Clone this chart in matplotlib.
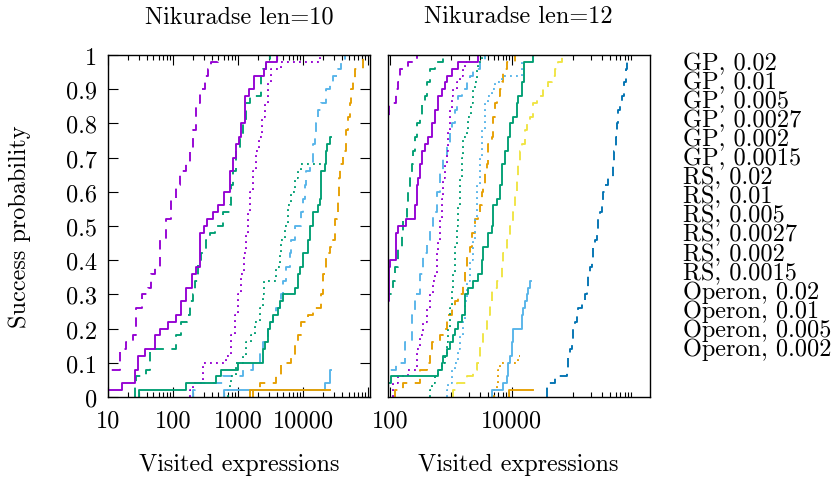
import matplotlib
matplotlib.use("Agg")
import matplotlib.pyplot as plt
from matplotlib.ticker import FixedLocator, NullFormatter

plt.rcParams['font.family'] = ['cmr10', 'DejaVu Serif']
plt.rcParams['axes.unicode_minus'] = False

FS = 17.5

legend_labels = ["GP, 0.02", "GP, 0.01", "GP, 0.005", "GP, 0.0027", "GP, 0.002", "GP, 0.0015",
                 "RS, 0.02", "RS, 0.01", "RS, 0.005", "RS, 0.0027", "RS, 0.002", "RS, 0.0015",
                 "Operon, 0.02", "Operon, 0.01", "Operon, 0.005", "Operon, 0.002"]

y_ticks = [0, 0.1, 0.2, 0.3, 0.4, 0.5, 0.6, 0.7, 0.8, 0.9, 1]
y_tick_labels = ["0", "0.1", "0.2", "0.3", "0.4", "0.5", "0.6", "0.7", "0.8", "0.9", "1"]
x_ticks_10 = [10, 100, 1000, 10000]
x_tick_labels_10 = ["10", "100", "1000", "10000"]
x_ticks_12 = [100, 10000]
x_tick_labels_12 = ["100", "10000"]

# ---- Nikuradse len=10 ----
l10_gp002_x = [9, 14, 15.5, 19, 24, 27, 33, 41, 46, 52, 62, 79, 94, 112, 127, 157, 180, 203, 229, 257, 307, 345, 389, 500]
l10_gp002_y = [0.08, 0.08, 0.14, 0.16, 0.18, 0.26, 0.30, 0.32, 0.36, 0.38, 0.46, 0.52, 0.58, 0.62, 0.66, 0.68, 0.72, 0.78, 0.86, 0.90, 0.94, 0.96, 0.98, 1.0]
l10_gp001_x = [25.7, 27.3, 38.9, 43.8, 112, 134, 164, 180, 203, 215, 243, 273, 326, 367, 438, 587, 745, 789, 838, 943, 1061, 1194, 1343, 1511, 2285, 2427, 2728, 3069]
l10_gp001_y = [0.04, 0.06, 0.08, 0.14, 0.18, 0.22, 0.24, 0.28, 0.30, 0.34, 0.40, 0.42, 0.46, 0.48, 0.50, 0.54, 0.56, 0.62, 0.66, 0.72, 0.76, 0.80, 0.86, 0.88, 0.94, 0.96, 0.98, 1.0]
l10_gp0005_x = [200, 215, 588, 1194, 1702, 2154, 2427, 2894, 3256, 3453, 3890, 4375, 4642, 4920, 5540, 6240, 6620, 7450, 9430, 10000, 10610, 11250, 12680, 14260, 15110, 16030, 17020, 19150, 22850, 25700, 28940, 34530, 38900, 43750]
l10_gp0005_y = [0.02, 0.04, 0.06, 0.08, 0.10, 0.14, 0.16, 0.20, 0.22, 0.24, 0.26, 0.28, 0.30, 0.34, 0.38, 0.42, 0.46, 0.50, 0.54, 0.58, 0.62, 0.66, 0.68, 0.74, 0.76, 0.80, 0.84, 0.86, 0.90, 0.92, 0.94, 0.96, 0.98, 1.0]
l10_gp00027_x = [1700, 2154, 3890, 4642, 6620, 7450, 8380, 9430, 11940, 14260, 19150, 20320, 22850, 25700, 28940, 30690, 33340, 34530, 35800, 36650, 41220, 46420, 49200, 52240, 55460, 58750, 62370, 83750]
l10_gp00027_y = [0.02, 0.04, 0.06, 0.10, 0.12, 0.16, 0.18, 0.22, 0.24, 0.26, 0.30, 0.36, 0.42, 0.44, 0.46, 0.52, 0.54, 0.58, 0.64, 0.68, 0.72, 0.78, 0.82, 0.86, 0.90, 0.92, 0.96, 1.0]
l10_rs002_x = [180, 203, 290, 662, 789, 889, 1000, 1125, 1222, 1312, 1426, 1549, 1702, 1916, 2105, 2367, 2570, 2894, 3256, 4642, 18030]
l10_rs002_y = [0.02, 0.04, 0.10, 0.12, 0.18, 0.24, 0.30, 0.36, 0.42, 0.48, 0.54, 0.60, 0.66, 0.72, 0.76, 0.82, 0.86, 0.92, 0.96, 0.98, 1.0]
l10_rs001_x = [700, 745, 789, 943, 1194, 1343, 1596, 1797, 2141, 2410, 2495, 3890, 4375, 4642, 5224, 5874, 6620, 7450, 8380, 9430, 19150]
l10_rs001_y = [0.02, 0.04, 0.06, 0.10, 0.12, 0.16, 0.18, 0.22, 0.26, 0.30, 0.34, 0.38, 0.42, 0.46, 0.50, 0.56, 0.60, 0.64, 0.66, 0.68, 0.68]
l10_op002_x = [9, 16.6, 25.7, 29, 37, 52, 62, 84, 112, 131, 157, 198, 229, 257, 300, 338, 412, 492, 601, 745, 838, 943, 1035, 1125, 1297, 1459, 1742, 2483, 2728, 3981]
l10_op002_y = [0.02, 0.04, 0.08, 0.12, 0.14, 0.18, 0.20, 0.22, 0.24, 0.28, 0.32, 0.36, 0.38, 0.48, 0.50, 0.52, 0.54, 0.56, 0.60, 0.66, 0.70, 0.74, 0.76, 0.80, 0.88, 0.90, 0.94, 0.96, 0.98, 1.0]
l10_op001_x = [30, 157, 464, 554, 1000, 2427, 2570, 2894, 3069, 3453, 4120, 4375, 4920, 7450, 8380, 8890, 10000, 11940, 12680, 14260, 17020, 18030, 19150, 21540, 22850, 23670, 25700, 26500]
l10_op001_y = [0.02, 0.04, 0.06, 0.08, 0.10, 0.14, 0.16, 0.20, 0.22, 0.24, 0.26, 0.28, 0.30, 0.32, 0.36, 0.38, 0.42, 0.46, 0.50, 0.54, 0.56, 0.58, 0.66, 0.68, 0.72, 0.74, 0.76, 0.76]
l10_op0005_x = [600, 21540, 25700, 26500]
l10_op0005_y = [0.02, 0.04, 0.08, 0.08]
l10_op0002_x = [1520, 26000]
l10_op0002_y = [0.02, 0.02]

# ---- Nikuradse len=12 ----
l12_gp002_x = [80, 96, 128, 137, 146, 200, 273]
l12_gp002_y = [0.82, 0.86, 0.90, 0.92, 0.96, 0.98, 1.0]
l12_gp001_x = [80, 113, 121, 137, 155, 166, 188, 200, 213, 226, 241, 257, 273, 311, 330, 375, 399, 453, 547, 748]
l12_gp001_y = [0.30, 0.34, 0.38, 0.44, 0.48, 0.52, 0.56, 0.60, 0.64, 0.68, 0.72, 0.76, 0.80, 0.82, 0.86, 0.88, 0.92, 0.96, 0.98, 1.0]
l12_gp0005_x = [80, 128, 176, 226, 257, 311, 352, 399, 453, 513, 582, 661, 748, 849, 963, 1025, 1163, 1239, 1319, 1497, 1806, 2046, 2321, 2985, 3606]
l12_gp0005_y = [0.08, 0.10, 0.16, 0.24, 0.30, 0.36, 0.42, 0.46, 0.50, 0.54, 0.60, 0.66, 0.70, 0.74, 0.78, 0.80, 0.84, 0.86, 0.88, 0.90, 0.92, 0.94, 0.96, 0.98, 1.0]
l12_gp00027_x = [121, 166, 311, 399, 453, 482, 661, 748, 849, 1025, 1163, 1319, 1592, 1698, 1806, 2046, 2185, 2472, 2805, 2985, 3183, 3388, 3606, 3846, 4091, 4642, 4944, 5260, 5610, 6360, 6770, 7210, 8180, 11200]
l12_gp00027_y = [0.02, 0.04, 0.08, 0.10, 0.14, 0.16, 0.18, 0.20, 0.24, 0.26, 0.28, 0.30, 0.34, 0.38, 0.42, 0.44, 0.48, 0.52, 0.54, 0.56, 0.60, 0.62, 0.66, 0.68, 0.74, 0.76, 0.82, 0.86, 0.88, 0.90, 0.92, 0.96, 0.98, 1.0]
l12_gp0002_x = [1092, 1239, 1806, 2321, 2634, 2985, 3388, 3846, 4356, 4642, 5610, 6770, 7210, 8180, 9270, 10510, 11200, 11930, 12700, 13530, 14390, 16330, 17390, 19720, 22370, 25360, 32640, 39450, 44690, 50700, 57500, 65180]
l12_gp0002_y = [0.02, 0.04, 0.06, 0.08, 0.10, 0.16, 0.20, 0.24, 0.28, 0.32, 0.34, 0.38, 0.42, 0.46, 0.50, 0.54, 0.60, 0.64, 0.68, 0.72, 0.74, 0.78, 0.80, 0.82, 0.86, 0.88, 0.90, 0.92, 0.94, 0.96, 0.98, 1.0]
l12_gp00015_x = [36980, 50700, 78800, 81800, 89400, 95100, 101200, 107800, 114800, 122300, 138700, 157400, 167500, 178300, 189900, 202300, 215400, 229400, 244300, 260200, 277000, 295100, 314300, 334700, 379700, 458300, 476000, 500900, 520400, 553800, 589000, 643700, 694800, 730000, 758500, 807600]
l12_gp00015_y = [0.04, 0.06, 0.08, 0.12, 0.14, 0.16, 0.20, 0.22, 0.24, 0.26, 0.28, 0.30, 0.32, 0.36, 0.38, 0.40, 0.44, 0.46, 0.48, 0.52, 0.54, 0.56, 0.60, 0.62, 0.64, 0.68, 0.72, 0.76, 0.80, 0.84, 0.86, 0.88, 0.92, 0.96, 0.98, 1.0]
l12_rs002_x = [113, 137, 200, 273, 311, 352, 399, 453, 513, 547, 582, 620, 661, 703, 748, 798, 849, 904, 963, 1025, 1092, 1239, 1406, 1592, 1698, 1800]
l12_rs002_y = [0.04, 0.06, 0.08, 0.14, 0.18, 0.22, 0.26, 0.30, 0.34, 0.36, 0.42, 0.46, 0.52, 0.58, 0.64, 0.68, 0.72, 0.78, 0.84, 0.88, 0.90, 0.92, 0.94, 0.96, 0.98, 0.98]
l12_rs001_x = [453, 482, 547, 620, 703, 798, 849, 904, 963, 1025, 1092, 1163, 1239, 1319, 1406, 1497, 1592, 1806, 1923, 2128, 2321, 2472, 2634, 2805, 3183]
l12_rs001_y = [0.02, 0.04, 0.06, 0.08, 0.10, 0.12, 0.16, 0.20, 0.26, 0.32, 0.36, 0.44, 0.50, 0.56, 0.64, 0.70, 0.76, 0.78, 0.82, 0.86, 0.90, 0.92, 0.96, 0.98, 1.0]
l12_rs0005_x = [849, 904, 1025, 1163, 1319, 1406, 1592, 1698, 1806, 2046, 2321, 2472, 2634, 2985, 3183, 3606, 4091, 4642, 5260, 6770, 14390, 15000]
l12_rs0005_y = [0.02, 0.04, 0.08, 0.10, 0.14, 0.18, 0.22, 0.28, 0.34, 0.40, 0.46, 0.52, 0.62, 0.70, 0.78, 0.86, 0.88, 0.90, 0.92, 0.94, 0.98, 0.98]
l12_rs00027_x = [5100, 5600, 6000, 6400, 12700, 13500]
l12_rs00027_y = [0.02, 0.04, 0.08, 0.10, 0.12, 0.12]
l12_op002_x = [80, 95, 100, 128, 137, 181, 257, 273, 291, 311, 339, 375, 425, 482, 547, 620, 703, 798, 849, 1025, 1319, 2735]
l12_op002_y = [0.28, 0.38, 0.40, 0.48, 0.50, 0.52, 0.56, 0.62, 0.64, 0.68, 0.72, 0.74, 0.76, 0.80, 0.84, 0.88, 0.90, 0.92, 0.94, 0.96, 0.98, 1.0]
l12_op001_x = [80, 106, 620, 703, 748, 849, 963, 1092, 1163, 1319, 1497, 1698, 1923, 2321, 2805, 3183, 3388, 4091, 4642, 4944, 5610, 6360, 6770, 7680, 8710, 9270, 10510, 11930, 12700, 14390, 15920, 22370]
l12_op001_y = [0.04, 0.06, 0.08, 0.10, 0.12, 0.14, 0.16, 0.18, 0.20, 0.22, 0.24, 0.30, 0.32, 0.34, 0.36, 0.40, 0.44, 0.48, 0.50, 0.56, 0.58, 0.62, 0.68, 0.72, 0.76, 0.80, 0.82, 0.86, 0.88, 0.92, 0.98, 1.0]
l12_op0005_x = [4642, 7210, 8180, 8710, 9270, 9880, 10510, 14390, 15330, 16330, 17390, 18520, 19720, 20500]
l12_op0005_y = [0.02, 0.04, 0.06, 0.10, 0.12, 0.16, 0.20, 0.24, 0.26, 0.28, 0.30, 0.32, 0.34, 0.34]
l12_op0002_x = [8900, 22370]
l12_op0002_y = [0.02, 0.02]

panel10 = {
    "GP, 0.02": (l10_gp002_x, l10_gp002_y),
    "GP, 0.01": (l10_gp001_x, l10_gp001_y),
    "GP, 0.005": (l10_gp0005_x, l10_gp0005_y),
    "GP, 0.0027": (l10_gp00027_x, l10_gp00027_y),
    "RS, 0.02": (l10_rs002_x, l10_rs002_y),
    "RS, 0.01": (l10_rs001_x, l10_rs001_y),
    "Operon, 0.02": (l10_op002_x, l10_op002_y),
    "Operon, 0.01": (l10_op001_x, l10_op001_y),
    "Operon, 0.005": (l10_op0005_x, l10_op0005_y),
    "Operon, 0.002": (l10_op0002_x, l10_op0002_y),
}
panel12 = {
    "GP, 0.02": (l12_gp002_x, l12_gp002_y),
    "GP, 0.01": (l12_gp001_x, l12_gp001_y),
    "GP, 0.005": (l12_gp0005_x, l12_gp0005_y),
    "GP, 0.0027": (l12_gp00027_x, l12_gp00027_y),
    "GP, 0.002": (l12_gp0002_x, l12_gp0002_y),
    "GP, 0.0015": (l12_gp00015_x, l12_gp00015_y),
    "RS, 0.02": (l12_rs002_x, l12_rs002_y),
    "RS, 0.01": (l12_rs001_x, l12_rs001_y),
    "RS, 0.005": (l12_rs0005_x, l12_rs0005_y),
    "RS, 0.0027": (l12_rs00027_x, l12_rs00027_y),
    "Operon, 0.02": (l12_op002_x, l12_op002_y),
    "Operon, 0.01": (l12_op001_x, l12_op001_y),
    "Operon, 0.005": (l12_op0005_x, l12_op0005_y),
    "Operon, 0.002": (l12_op0002_x, l12_op0002_y),
}

# gnuplot-like palette, one colour per position within a method group
palette = ["#9400d3", "#009e73", "#56b4e9", "#e69f00", "#f0e442", "#0072b2"]
method_style = {"GP": (0, (5, 4)), "RS": (0, (1, 2.2)), "Operon": "-"}


def style_for(label):
    method = label.split(",")[0]
    group = [l for l in legend_labels if l.startswith(method + ",")]
    return palette[group.index(label)], method_style[method]


fig = plt.figure(figsize=(8.32, 4.81), dpi=100)
W, H = 832, 481
ax1 = fig.add_axes([108 / W, (H - 398) / H, 262 / W, 342 / H])
ax2 = fig.add_axes([388 / W, (H - 398) / H, 262 / W, 342 / H])

for ax, data in [(ax1, panel10), (ax2, panel12)]:
    for label in legend_labels:
        if label not in data:
            continue
        xs, ys = data[label]
        color, ls = style_for(label)
        ax.step([xs[0]] + xs, [0] + ys, where="post", color=color, linestyle=ls, lw=1.35)
    ax.set_xscale("log")
    ax.set_ylim(0, 1)
    for s in ax.spines.values():
        s.set_linewidth(1.0)
    ax.tick_params(which="both", direction="in", top=True, labelsize=FS, width=0.8)
    ax.tick_params(which="major", length=7, pad=9)
    ax.tick_params(which="minor", length=3.5)

ax1.set_xlim(10, 1.07e5)
ax1.xaxis.set_major_locator(FixedLocator(x_ticks_10 + [100000]))
ax1.set_xticklabels(x_tick_labels_10 + [""])
ax1.xaxis.set_minor_locator(FixedLocator([m * d for d in [10, 100, 1000, 10000] for m in range(2, 10)]))
ax1.xaxis.set_minor_formatter(NullFormatter())
ax1.set_yticks(y_ticks)
ax1.set_yticklabels(y_tick_labels)
ax1.tick_params(axis="y", right=True, pad=8)

ax2.set_xlim(93, 1.83e6)
ax2.xaxis.set_major_locator(FixedLocator(x_ticks_12))
ax2.set_xticklabels(x_tick_labels_12)
ax2.xaxis.set_minor_locator(FixedLocator([m * d for d in [1000, 100000] for m in range(1, 10)]))
ax2.xaxis.set_minor_formatter(NullFormatter())
ax2.set_yticks([])

fig.text(239 / W, 1 - 17 / H, "Nikuradse len=10", ha="center", va="center", fontsize=FS)
fig.text(518 / W, 1 - 17 / H, "Nikuradse len=12", ha="center", va="center", fontsize=FS)
fig.text(239 / W, 1 - 465 / H, "Visited expressions", ha="center", va="center", fontsize=FS)
fig.text(518 / W, 1 - 465 / H, "Visited expressions", ha="center", va="center", fontsize=FS)
fig.text(20 / W, 1 - 227 / H, "Success probability", ha="center", va="center", rotation=90, fontsize=FS)

for i, label in enumerate(legend_labels):
    fig.text(683 / W, 1 - (64 + i * 19.07) / H, label, ha="left", va="center", fontsize=FS)

fig.savefig("out.png", dpi=100)
